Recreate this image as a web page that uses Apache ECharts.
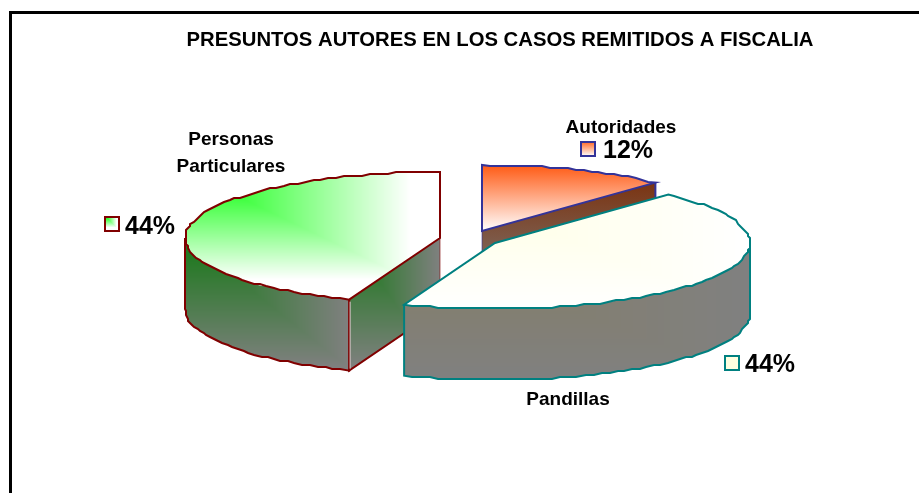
<!DOCTYPE html>
<html>
<head>
<meta charset="utf-8">
<style>
  html, body { margin: 0; padding: 0; background: #fff; }
  #chart { width: 919px; height: 493px; }
</style>
<script src="https://cdn.jsdelivr.net/npm/echarts@6/dist/echarts.min.js"></script>
</head>
<body>
<div id="chart"></div>
<script>
// values, clockwise from 12 o'clock
// the slice angles say a bit more than the rounded labels do
const categories = ['Autoridades', 'Pandillas', 'Personas\nParticulares']
const percents = [11.9, 43.9, 44.2]
const chartTitle = 'PRESUNTOS AUTORES EN LOS CASOS REMITIDOS A FISCALIA'

// back slice first
const drawOrder = [0, 2, 1]

const rx = 255
const ry = 66
const depth = 71

const W = 919
const H = 493

// same colours as the excel chart
const looks = [
    {
        center: [482, 231],
        line: '#333399',
        labelAt: [621, 128],
        keyAt: [581, 142],
        pctAt: [603, 151]
    },
    {
        center: [495, 243],
        line: '#008080',
        labelAt: [568, 400],
        keyAt: [725, 356],
        pctAt: [745, 365]
    },
    {
        center: [440, 238],
        line: '#800000',
        labelAt: [231, 153],
        keyAt: [105, 217],
        pctAt: [125, 227]
    }
]

// excel "from corner" fill: t is the larger of the two box fractions
function cornerFill(x0, y0, w, h, c0, c1) {
    const cv = document.createElement('canvas')
    cv.width = W
    cv.height = H
    const ctx = cv.getContext('2d')
    const img = ctx.createImageData(W, H)
    for (let y = 0; y < H; y++) {
        for (let x = 0; x < W; x++) {
            const a = Math.min(1, Math.max(0, (x - x0) / w))
            const b = Math.min(1, Math.max(0, (y - y0) / h))
            const t = Math.max(a, b)
            const i = (y * W + x) * 4
            img.data[i] = c0[0] + (c1[0] - c0[0]) * t
            img.data[i + 1] = c0[1] + (c1[1] - c0[1]) * t
            img.data[i + 2] = c0[2] + (c1[2] - c0[2]) * t
            img.data[i + 3] = 255
        }
    }
    ctx.putImageData(img, 0, 0)
    return { image: cv, repeat: 'no-repeat' }
}

function vertical(y0, y1, c0, c1) {
    return new echarts.graphic.LinearGradient(0, y0, 0, y1, [
        { offset: 0, color: c0 },
        { offset: 1, color: c1 }
    ], true)
}

const GREEN = [0, 255, 0]
const WHITE = [255, 255, 255]
const GREY = [128, 128, 128]

const fills = [
    {
        top: vertical(165, 231, '#ff5a14', '#ffffff'),
        inner: vertical(183, 300, '#7a3412', '#808080'),
        outer: '#808080',
        key: vertical(142, 156, '#ff6a28', '#ffffff')
    },
    {
        top: cornerFill(405, 177, 345, 132, [255, 255, 222], WHITE),
        inner: '#808080',
        outer: cornerFill(405, 243, 345, 136, [133, 126, 100], GREY),
        key: '#ffffe0'
    },
    {
        top: cornerFill(185, 171, 225, 108, GREEN, WHITE),
        inner: cornerFill(349, 238, 91, 130, [20, 120, 20], GREY),
        outer: cornerFill(185, 237, 164, 131, [20, 120, 20], GREY),
        key: cornerFill(105, 216, 11, 11, GREEN, WHITE)
    }
]

function rim(c, deg) {
    const r = deg * Math.PI / 180
    return [c[0] + rx * Math.sin(r), c[1] - ry * Math.cos(r)]
}

// the reference rim is a slightly stepped line, not a clean ellipse
function arcPoints(c, from, to) {
    const pts = []
    const n = Math.max(2, Math.ceil(Math.abs(to - from) / 2))
    for (let i = 0; i <= n; i++) {
        const p = rim(c, from + (to - from) * i / n)
        if (i === 0 || i === n) {
            pts.push(p)
        } else {
            pts.push([Math.round(p[0] / 2) * 2, Math.round(p[1] / 2) * 2])
        }
    }
    return pts
}

function down(pts) {
    return pts.map(p => [p[0], p[1] + depth])
}

// start and end angle of each slice
const angles = []
let acc = 0
const total = percents.reduce((a, b) => a + b, 0)
percents.forEach(v => {
    angles.push([acc, acc + v / total * 360])
    acc += v / total * 360
})

function renderSlice(params, api) {
    const idx = api.value(0)
    const look = looks[idx]
    const c = look.center
    const fill = fills[idx]
    const a0 = angles[idx][0]
    const a1 = angles[idx][1]
    const kids = []
    const lineStyle = { stroke: look.line, lineWidth: 2, fill: null }

    // radial face that looks towards the viewer
    const faceEnd = idx === 0 ? rim(c, a1) : rim(c, a0)
    if (idx !== 1) {
        const top = [c, faceEnd]
        kids.push({
            type: 'polygon',
            shape: { points: top.concat(down(top).reverse()) },
            style: { fill: fill.inner }
        })
        kids.push({
            type: 'polyline',
            shape: { points: [[c[0], c[1]], [c[0], c[1] + depth]] },
            style: { stroke: look.line, lineWidth: 1, opacity: 0.6, fill: null }
        })
        kids.push({
            type: 'polyline',
            shape: { points: [faceEnd, [faceEnd[0], faceEnd[1] + depth], [c[0], c[1] + depth]] },
            style: lineStyle
        })
    }

    // rim wall, only the front half shows
    const w0 = Math.max(a0, 90)
    const w1 = Math.min(a1, 270)
    if (w1 > w0) {
        const edge = arcPoints(c, w0, w1)
        const low = down(edge)
        kids.push({
            type: 'polygon',
            shape: { points: edge.concat(low.slice().reverse()) },
            style: { fill: fill.outer }
        })
        kids.push({
            type: 'polyline',
            shape: { points: [edge[0]].concat(low, [edge[edge.length - 1]]) },
            style: lineStyle
        })
    }

    // top of the slice
    kids.push({
        type: 'polygon',
        shape: { points: [c].concat(arcPoints(c, a0, a1)) },
        style: { fill: fill.top, stroke: look.line, lineWidth: 2 }
    })

    // where two faces meet on the near slice there is a pale edge
    if (idx === 2) {
        const p = rim(c, a0)
        kids.push({
            type: 'line',
            shape: { x1: p[0] + 1, y1: p[1] + 2, x2: p[0] + 1, y2: p[1] + depth - 2 },
            style: { stroke: '#d8d8d8', lineWidth: 1 }
        })
    }

    // label, key and percent
    kids.push({
        type: 'text',
        style: {
            x: look.labelAt[0],
            y: look.labelAt[1],
            text: categories[idx],
            align: 'center',
            verticalAlign: 'middle',
            lineHeight: 27,
            font: 'bold 19px "Liberation Sans", Arial, sans-serif',
            fill: '#000'
        }
    })
    kids.push({
        type: 'rect',
        shape: { x: look.keyAt[0], y: look.keyAt[1], width: 14, height: 14 },
        style: { fill: fill.key, stroke: look.line, lineWidth: 2 }
    })
    kids.push({
        type: 'text',
        style: {
            x: look.pctAt[0],
            y: look.pctAt[1],
            text: Math.round(percents[idx]) + '%',
            align: 'left',
            verticalAlign: 'middle',
            font: 'bold 25px "Liberation Sans", Arial, sans-serif',
            fill: '#000'
        }
    })

    return { type: 'group', children: kids }
}

const chart = echarts.init(document.getElementById('chart'), null, { renderer: 'canvas' })
chart.setOption({
    animation: false,
    backgroundColor: '#fff',
    title: {
        text: chartTitle,
        left: 495,
        top: 25,
        textAlign: 'center',
        textStyle: {
            fontFamily: '"Liberation Sans", Arial, sans-serif',
            fontSize: 20.3,
            fontWeight: 'bold',
            color: '#000'
        }
    },
    graphic: [
        {
            type: 'polyline',
            silent: true,
            shape: { points: [[10.5, H], [10.5, 12.5], [W, 12.5]] },
            style: { stroke: '#000', lineWidth: 3, fill: null }
        }
    ],
    series: [
        {
            type: 'custom',
            coordinateSystem: 'none',
            silent: true,
            renderItem: renderSlice,
            data: drawOrder.map(i => [i])
        }
    ]
})
</script>
</body>
</html>
